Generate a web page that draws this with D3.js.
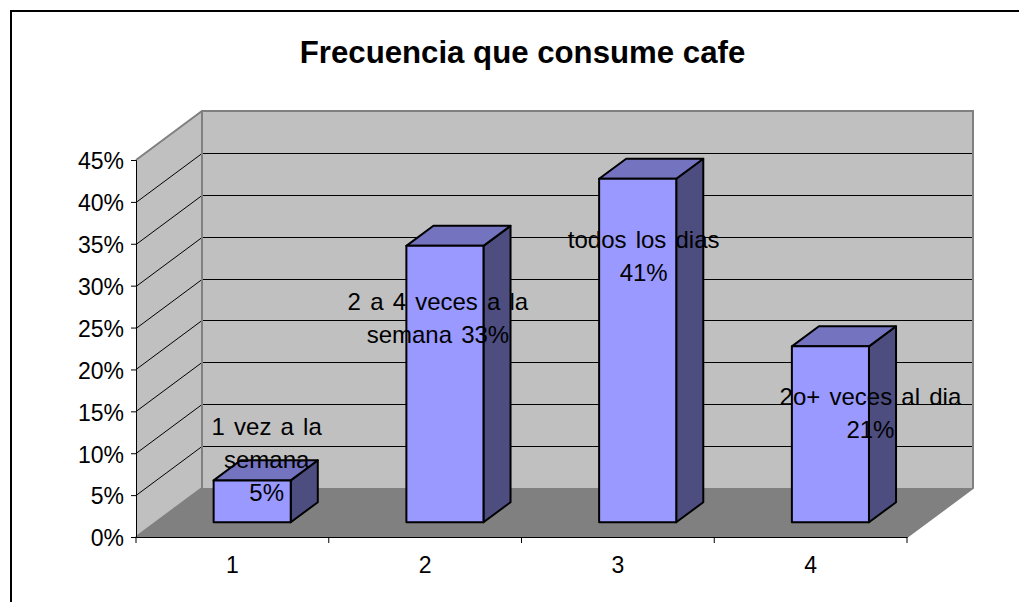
<!DOCTYPE html>
<html>
<head>
<meta charset="utf-8">
<script src="https://d3js.org/d3.v7.min.js"></script>
<style>
  html, body { margin: 0; padding: 0; background: #fff; overflow: hidden; }
  svg { display: block; }
  text { font-family: "Liberation Sans", Arial, sans-serif; fill: #000; }
</style>
</head>
<body>
<div id="chart"></div>
<script>
// data
var categories = ["1", "2", "3", "4"];
var values = [5, 33, 41, 21];
var labels = [
  ["1 vez a la", "semana", "5%"],
  ["2 a 4 veces a la", "semana 33%"],
  ["todos los dias", "41%"],
  ["2o+ veces al dia", "21%"]
];
var yTicks = [0, 5, 10, 15, 20, 25, 30, 35, 40, 45];
var chartTitle = "Frecuencia que consume cafe";

// manual label placement, relative to the front of each bar top
var labelDx = [14.5, -7, 6, 40];
var labelDy = [-45, 64, 69, 59];

var width = 1019, height = 602;
var depthX = 66, depthY = -49;       // wall offset from the front plane
var plotLeft = 136, plotRight = 907, plotTop = 160, plotBottom = 537;
var barShift = 0.3, barDepth = 0.41, barWidth = 0.4;

var svg = d3.select("#chart").append("svg")
  .attr("width", width).attr("height", height);

var x = d3.scaleBand().domain(categories).range([plotLeft, plotRight]);
var y = d3.scaleLinear().domain([0, 45]).range([plotBottom, plotTop]);

function pts(a) { return a.map(function (p) { return p.join(","); }).join(" "); }

// frame, runs off the right and bottom of the picture
svg.append("path")
  .attr("d", "M" + 11 + "," + (height + 2) + "V11H" + (width + 2))
  .attr("fill", "none").attr("stroke", "#000").attr("stroke-width", 2);

// title
svg.append("text")
  .attr("x", 522.5).attr("y", 63)
  .attr("text-anchor", "middle")
  .style("font-size", "31.2px").style("font-weight", "bold")
  .text(chartTitle);

// side wall, back wall, floor
svg.append("polygon")
  .attr("points", pts([[plotLeft, plotBottom], [plotLeft, plotTop], [plotLeft + depthX, plotTop + depthY], [plotLeft + depthX, plotBottom + depthY]]))
  .attr("fill", "#c0c0c0");
svg.append("polygon")
  .attr("points", pts([[plotLeft + depthX, plotTop + depthY], [plotRight + depthX, plotTop + depthY], [plotRight + depthX, plotBottom + depthY], [plotLeft + depthX, plotBottom + depthY]]))
  .attr("fill", "#c0c0c0");
svg.append("polygon")
  .attr("points", pts([[plotLeft, plotBottom], [plotLeft + depthX, plotBottom + depthY], [plotRight + depthX, plotBottom + depthY], [plotRight, plotBottom]]))
  .attr("fill", "#808080");

// gridlines
var grid = svg.append("g").attr("fill", "none").attr("stroke", "#000").attr("stroke-width", 1);
yTicks.slice(1, -1).forEach(function (t) {
  var yy = Math.round(y(t)) + 0.5;
  grid.append("path").attr("d", "M" + plotLeft + "," + yy + "L" + (plotLeft + depthX) + "," + (yy + depthY) + "H" + (plotRight + depthX));
});

// wall outline
svg.append("path")
  .attr("d", "M" + plotLeft + "," + plotTop + "L" + (plotLeft + depthX) + "," + (plotTop + depthY) + "H" + (plotRight + depthX) + "V" + (plotBottom + depthY) + "L" + plotRight + "," + plotBottom)
  .attr("fill", "none").attr("stroke", "#808080").attr("stroke-width", 2);
svg.append("path")
  .attr("d", "M" + (plotLeft + depthX) + "," + (plotTop + depthY) + "V" + (plotBottom + depthY) + "L" + plotLeft + "," + plotBottom)
  .attr("fill", "none").attr("stroke", "#808080").attr("stroke-width", 2);

// bars
var bw = x.bandwidth() * barWidth;
var dx = depthX * barDepth, dy = depthY * barDepth;
var bars = svg.selectAll("g.bar").data(values).join("g").attr("class", "bar")
  .attr("stroke", "#000").attr("stroke-width", 2).attr("stroke-linejoin", "round");

function front(d, i) { return x(categories[i]) + (x.bandwidth() - bw) / 2 + depthX * barShift; }
function barTop(d) { return y(d) + depthY * barShift; }
var base = y(0) + depthY * barShift;

bars.append("polygon").attr("fill", "#4d4d80").attr("points", function (d, i) {
  var r = front(d, i) + bw, t = barTop(d);
  return pts([[r, t], [r + dx, t + dy], [r + dx, base + dy], [r, base]]);
});
bars.append("polygon").attr("fill", "#7373bf").attr("points", function (d, i) {
  var l = front(d, i), t = barTop(d);
  return pts([[l, t], [l + dx, t + dy], [l + bw + dx, t + dy], [l + bw, t]]);
});
bars.append("rect").attr("fill", "#9999ff")
  .attr("x", front)
  .attr("y", barTop)
  .attr("width", bw)
  .attr("height", function (d) { return base - barTop(d); });

// axes
var yAxis = d3.axisLeft(y).tickValues(yTicks).tickFormat(function (d) { return d + "%"; })
  .tickSize(5).tickPadding(7);
var yG = svg.append("g").attr("transform", "translate(" + plotLeft + ",0)").call(yAxis);
yG.select(".domain").attr("stroke", "#000");
yG.selectAll("text").style("font-size", "23px").attr("fill", "#000").attr("y", 1.5);

var xAxis = d3.axisBottom(x).tickSize(0).tickPadding(20);
var xG = svg.append("g").attr("transform", "translate(0," + plotBottom + ")").call(xAxis);
xG.select(".domain").attr("stroke", "#000");
xG.selectAll("text").style("font-size", "23px").attr("fill", "#000");
// category separators sit on the band edges
xG.selectAll("line.sep").data(categories.concat([""])).join("line").attr("class", "sep")
  .attr("x1", function (d, i) { return plotLeft + i * x.step(); })
  .attr("x2", function (d, i) { return plotLeft + i * x.step(); })
  .attr("y1", 0).attr("y2", 6).attr("stroke", "#000");

// data labels
var lineHeight = 32.7;
values.forEach(function (v, i) {
  var cx = front(v, i) + bw / 2 + labelDx[i];
  labels[i].forEach(function (line, j) {
    svg.append("text")
      .attr("x", cx)
      .attr("y", barTop(v) + labelDy[i] + j * lineHeight)
      .attr("text-anchor", "middle")
      .style("font-size", "24px").style("word-spacing", "2.5px")
      .text(line);
  });
});
</script>
</body>
</html>
